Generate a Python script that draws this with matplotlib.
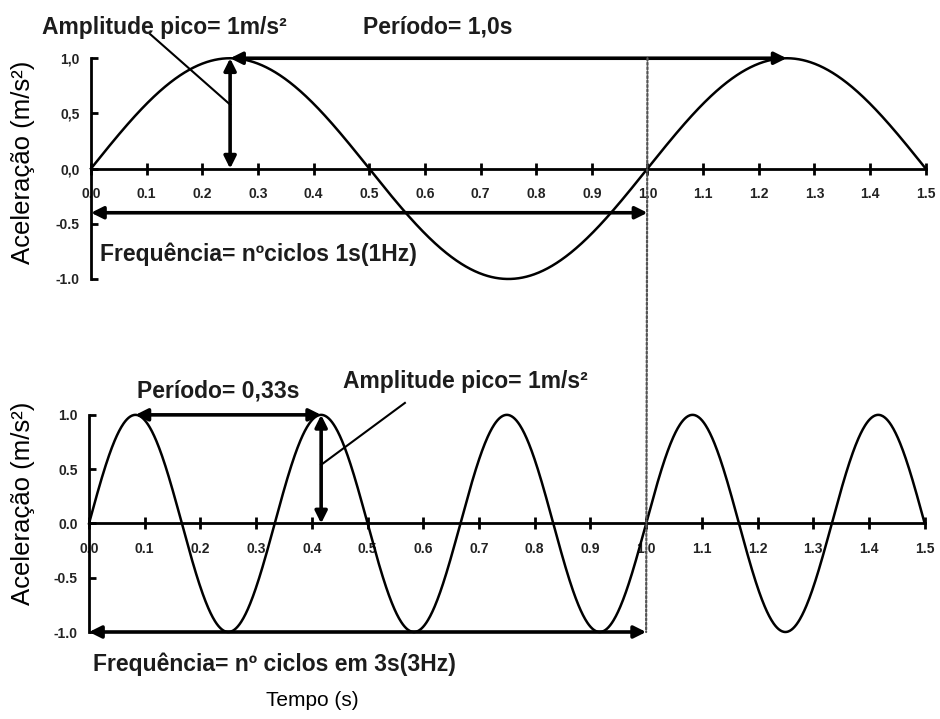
import numpy as np
import matplotlib
matplotlib.use("Agg")
import matplotlib.pyplot as plt
from matplotlib.patches import ConnectionPatch

plt.rcParams['font.family'] = ['Liberation Sans', 'DejaVu Sans']

# wave parameters
freqs = [1, 3]                 # Hz, top and bottom panel
amplitude = 1.0                # m/s^2
t_end = 1.5                    # s
x_ticks = [0.0, 0.1, 0.2, 0.3, 0.4, 0.5, 0.6, 0.7, 0.8, 0.9, 1.0, 1.1, 1.2, 1.3, 1.4, 1.5]
y_ticks = [-1.0, -0.5, 0.0, 0.5, 1.0]
y_labels_top = ["-1.0", "-0.5", "0,0", "0,5", "1,0"]
y_labels_bot = ["-1.0", "-0.5", "0.0", "0.5", "1.0"]

txt_color = "#1c1c1c"
bold = dict(fontsize=16.5, fontweight='bold', color=txt_color)


def setup_axes(ax, ylabels):
    ax.set_xlim(0, t_end)
    ax.set_ylim(-1.0, 1.0)
    for s in ['top', 'right']:
        ax.spines[s].set_visible(False)
    ax.spines['bottom'].set_position(('data', 0))
    ax.spines['bottom'].set_linewidth(2)
    ax.spines['left'].set_linewidth(2)
    ax.set_xticks(x_ticks)
    ax.set_xticklabels([f"{v:.1f}" for v in x_ticks])
    ax.set_yticks(y_ticks)
    ax.set_yticklabels(ylabels)
    ax.tick_params(axis='x', direction='inout', length=9, width=2, pad=9,
                   labelsize=10)
    ax.tick_params(axis='y', direction='in', length=5, width=2, pad=8,
                   labelsize=10)
    for lab in ax.get_xticklabels() + ax.get_yticklabels():
        lab.set_fontweight('bold')
        lab.set_color('#222222')


def dbl_arrow(ax, p1, p2):
    ax.annotate("", xy=p2, xytext=p1,
                arrowprops=dict(arrowstyle='<|-|>', color='black', lw=2.6,
                                mutation_scale=18, shrinkA=0, shrinkB=0),
                annotation_clip=False)


fig = plt.figure(figsize=(9.4, 7.19), dpi=100)
ax1 = fig.add_axes([0.0968, 0.612, 0.888, 0.307])
ax2 = fig.add_axes([0.0947, 0.121, 0.889, 0.302])

t = np.linspace(0, t_end, 1500)

# top panel: 1 Hz
setup_axes(ax1, y_labels_top)
ax1.plot(t, amplitude * np.sin(2 * np.pi * freqs[0] * t), color='black', lw=1.8,
         clip_on=False)
p1 = 1.0 / freqs[0]
dbl_arrow(ax1, (p1 / 4, 0.0), (p1 / 4, amplitude))
dbl_arrow(ax1, (p1 / 4, amplitude), (p1 / 4 + p1, amplitude))
dbl_arrow(ax1, (0.0, -0.4), (1.0, -0.4))
ax1.text(-0.088, 1.28, "Amplitude pico= 1m/s²", va='center', ha='left', **bold)
ax1.plot([0.106, p1 / 4], [1.22, 0.58], color='black', lw=1.5, clip_on=False)
ax1.text(0.488, 1.28, "Período= 1,0s", va='center', ha='left', **bold)
ax1.text(0.016, -0.775, "Frequência= nºciclos 1s(1Hz)", va='center', ha='left', **bold)

# bottom panel: 3 Hz
setup_axes(ax2, y_labels_bot)
ax2.plot(t, amplitude * np.sin(2 * np.pi * freqs[1] * t), color='black', lw=1.8,
         clip_on=False)
p2 = 1.0 / freqs[1]
dbl_arrow(ax2, (p2 / 4, amplitude), (p2 / 4 + p2, amplitude))
dbl_arrow(ax2, (p2 / 4 + p2, 0.0), (p2 / 4 + p2, amplitude))
dbl_arrow(ax2, (0.0, -1.0), (1.0, -1.0))
ax2.text(0.086, 1.22, "Período= 0,33s", va='center', ha='left', **bold)
ax2.text(0.456, 1.31, "Amplitude pico= 1m/s²", va='center', ha='left', **bold)
ax2.plot([0.567, p2 / 4 + p2], [1.11, 0.54], color='black', lw=1.5, clip_on=False)
ax2.text(0.007, -1.30, "Frequência= nº ciclos em 3s(3Hz)", va='center', ha='left', **bold)

# dotted guide at t = 1.0 s through both panels
con = ConnectionPatch(xyA=(1.0, 1.0), coordsA=ax1.transData,
                      xyB=(1.0, -1.0), coordsB=ax2.transData,
                      linestyle=(0, (1, 1)), color='#555555', lw=1.6)
fig.add_artist(con)

fig.text(0.024, 0.774, "Aceleração (m/s²)", rotation=90, ha='center', va='center',
         fontsize=18.5)
fig.text(0.024, 0.300, "Aceleração (m/s²)", rotation=90, ha='center', va='center',
         fontsize=18.5)
fig.text(0.332, 0.026, "Tempo (s)", ha='center', va='center', fontsize=15)

fig.savefig("out.png", dpi=100)
